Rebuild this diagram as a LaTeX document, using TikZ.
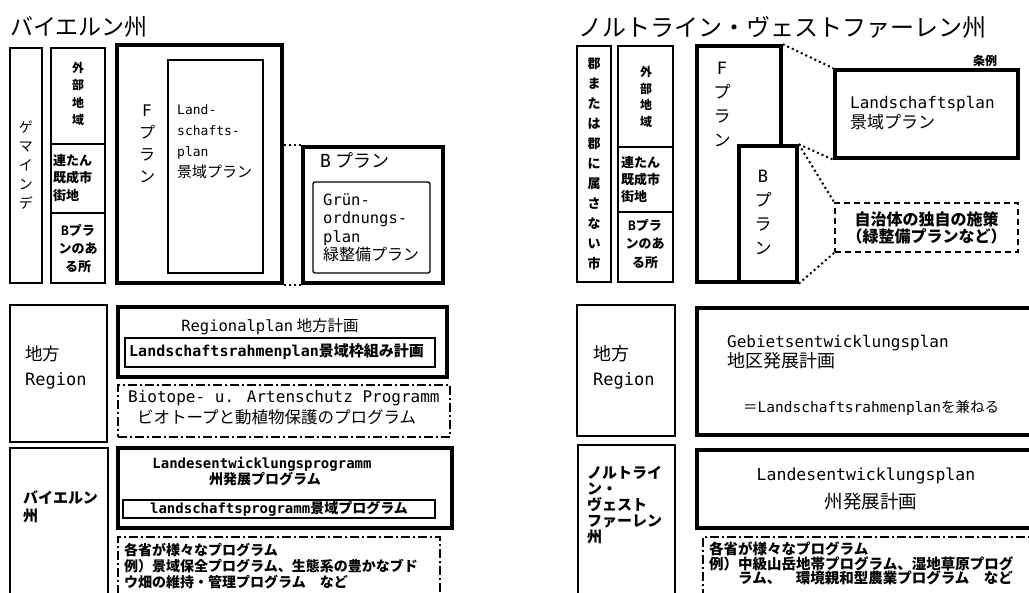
\documentclass[tikz,border=0pt]{standalone}
\usepackage{fontspec}
\setmainfont{Noto Sans CJK JP}
\newfontfamily\lat{DejaVu Sans Mono}
\usetikzlibrary{fit}
\newcommand{\setfs}[2]{\fontsize{#1}{#2}\selectfont}
\newcommand{\latw}[2]{{\lat\fontsize{#1}{#1}\selectfont #2}}
\tikzset{
  planbox/.style={draw, line width=2pt, inner sep=0pt},
  heavybox/.style={draw, line width=3.5pt, inner sep=0pt},
  thinbox/.style={draw, line width=1.3pt, inner sep=0pt},
  dashbox/.style={draw, line width=1.8pt, inner sep=0pt, dash pattern=on 6pt off 4pt},
  progbox/.style={draw, line width=1.5pt, inner sep=0pt, dash pattern=on 9pt off 3pt on 2pt off 3pt},
  linkline/.style={line width=2pt, dash pattern=on 2pt off 3pt},
  txt/.style={inner sep=0pt, align=left},
  vtxt/.style={inner sep=0pt, align=center},
}
\begin{document}
\begin{tikzpicture}[x=1pt, y=-1pt]
  \useasboundingbox (0,0) rectangle (1029,593);
  \fill[white] (0,0) rectangle (1029,593);
  \clip (0,0) rectangle (1029,593);

  % Bayern, Gemeinde
  \node[txt, anchor=west, font=\setfs{23}{23}] (titleBY) at (10,27) {バイエルン州};
  \node[planbox, fit={(10,48) (42,283)}] (gemBY) {};
  \node[planbox, fit={(51,48) (105,144)}] (outBY) {};
  \node[planbox, fit={(51,144) (105,213)}] (urbBY) {};
  \node[planbox, fit={(51,213) (105,283)}] (bareaBY) {};
  \node[heavybox, fit={(117,45) (282,283)}] (fplanBY) {};
  \node[planbox, fit={(168,60) (263,273)}] (lplanBY) {};
  \node[heavybox, fit={(303,147) (443,283)}] (bplanBY) {};
  \node[thinbox, rounded corners=2pt, fit={(313,182) (430,273)}] (gplanBY) {};

  \node[vtxt, font=\setfs{14}{19}] (gemTxt) at (gemBY.center) {ゲ\\マ\\イ\\ン\\デ};
  \node[vtxt, font=\bfseries\setfs{12}{17.5}] (outTxtBY) at (78,94) {外\\部\\地\\域};
  \node[txt, anchor=west, font=\bfseries\setfs{13}{17.5}] (urbTxtBY) at (53,178) {連たん\\既成市\\街地};
  \node[vtxt, font=\bfseries\setfs{13}{18}] (bareaTxtBY) at (78,249) {{\lat B}プラ\\ンのあ\\る所};
  \node[vtxt, font=\setfs{16}{22}] (fTxtBY) at (147,144) {{\lat F}\\プ\\ラ\\ン};
  \node[txt, anchor=west, font=\setfs{15}{21}] (lTxtBY) at (177,142) {\latw{13}{Land-}\\\latw{13}{schafts-}\\\latw{13}{plan}\\景域プラン};
  \node[txt, anchor=west, font=\setfs{18}{18}] (bTitleBY) at (320,160) {{\lat B} プラン};
  \node[txt, anchor=west, font=\setfs{16}{18.5}] (gTxtBY) at (323,228) {\latw{15.5}{Grün-}\\\latw{15.5}{ordnungs-}\\\latw{15.5}{plan}\\緑整備プラン};

  \draw[linkline] (fplanBY.east |- bplanBY.north) -- (bplanBY.north west);
  \draw[linkline] (fplanBY.east |- bplanBY.south) -- (bplanBY.south west);

  % Nordrhein-Westfalen, Gemeinde
  \node[txt, anchor=west, font=\setfs{24}{24}] (titleNW) at (578,27) {ノルトライン・ヴェストファーレン州};
  \node[planbox, fit={(577,46) (611,282)}] (kreisNW) {};
  \node[planbox, fit={(618,46) (673,147)}] (outNW) {};
  \node[planbox, fit={(618,147) (673,212)}] (urbNW) {};
  \node[planbox, fit={(618,212) (673,282)}] (bareaNW) {};
  \node[heavybox, fit={(697,46) (781,282)}] (fplanNW) {};
  \node[heavybox, fill=white, fit={(739,146) (797,282)}] (bplanNW) {};
  \node[heavybox, fit={(835,70) (1018,158)}] (lplanNW) {};
  \node[dashbox, fit={(835,203) (1018,252)}] (ownNW) {};

  \node[vtxt, font=\bfseries\setfs{13}{20}] (kreisTxt) at (kreisNW.center) {郡\\ま\\た\\は\\郡\\に\\属\\さ\\な\\い\\市};
  \node[vtxt, font=\bfseries\setfs{12}{16.7}] (outTxtNW) at (646,97) {外\\部\\地\\域};
  \node[txt, anchor=west, font=\bfseries\setfs{13}{17}] (urbTxtNW) at (621,180) {連たん\\既成市\\街地};
  \node[vtxt, font=\bfseries\setfs{13}{18.5}] (bareaTxtNW) at (645,244) {{\lat B}プラ\\ンのあ\\る所};
  \node[vtxt, font=\setfs{17}{24}] (fTxtNW) at (722,104) {{\lat F}\\プ\\ラ\\ン};
  \node[vtxt, font=\setfs{17}{24}] (bTxtNW) at (763,212) {{\lat B}\\プ\\ラ\\ン};
  \node[txt, font=\bfseries\setfs{12}{12}] (ordNW) at (985,61) {条例};
  \node[txt, anchor=west, font=\setfs{17}{20}] (lTxtNW) at (850,113) {\latw{16}{Landschaftsplan}\\景域プラン};
  \node[vtxt, font=\bfseries\setfs{16}{17}] (ownTxt) at (ownNW.center) {自治体の独自の施策\\（緑整備プランなど）};

  \draw[linkline] (fplanNW.north east) -- (lplanNW.north west);
  \draw[linkline] (bplanNW.north east) -- (lplanNW.south west);
  \draw[linkline] (bplanNW.north east) -- (ownNW.north west);
  \draw[linkline] (bplanNW.south east) -- (ownNW.south west);

  % Region
  \node[planbox, fit={(10,305) (107,442)}] (regBY) {};
  \node[txt, anchor=west, font=\setfs{17.5}{25}] (regTxtBY) at (25,367) {地方\\\latw{17}{Region}};
  \node[heavybox, fit={(118,307) (447,377)}] (rplanBY) {};
  \node[planbox, fit={(125,338) (435,367)}] (lrplanBY) {};
  \node[progbox, fit={(118,385) (450,437)}] (bioBY) {};
  \node[txt, font=\setfs{15.5}{15.5}] (rTxtBY) at (270,327) {\latw{15.5}{Regionalplan} 地方計画};
  \node[txt, anchor=west, font=\bfseries\setfs{15}{15}] (lrTxtBY) at (129,352) {\latw{15}{Landschaftsrahmenplan}景域枠組み計画};
  \node[txt, anchor=west] (bioTxtA) at (128,398) {\latw{16}{Biotope- u. Artenschutz Programm}};
  \node[txt, anchor=west, font=\setfs{16.5}{16.5}] (bioTxtB) at (137,417) {ビオトープと動植物保護のプログラム};

  \node[planbox, fit={(577,305) (675,436)}] (regNW) {};
  \node[txt, anchor=west, font=\setfs{18}{25}] (regTxtNW) at (593,367) {地方\\\latw{17}{Region}};
  \node[heavybox, fit={(697,308) (1040,435)}] (gebNW) {};
  \node[txt, anchor=west] (gebTxtA) at (727,343) {\latw{16}{Gebietsentwicklungsplan}};
  \node[txt, anchor=west, font=\setfs{18}{18}] (gebTxtB) at (727,361) {地区発展計画};
  \node[txt, anchor=west, font=\setfs{14.5}{14.5}] (gebTxtC) at (743,408) {＝\latw{14.5}{Landschaftsrahmenplan}を兼ねる};

  % Land
  \node[planbox, fit={(10,448) (108,610)}] (landBY) {};
  \node[txt, anchor=west, font=\bfseries\setfs{15}{18}] (landTxtBY) at (23,507) {バイエルン\\州};
  \node[heavybox, fit={(118,448) (452,528)}] (lepBY) {};
  \node[thinbox, line width=1.6pt, fit={(123,500) (435,518)}] (lprogBY) {};
  \node[txt, font=\bfseries\setfs{14}{14}] (lepTxtA) at (262,464) {\latw{14}{Landesentwicklungsprogramm}};
  \node[txt, font=\bfseries\setfs{14}{14}] (lepTxtB) at (265,479) {州発展プログラム};
  \node[txt, font=\bfseries\setfs{14}{14}] (lprogTxt) at (lprogBY.center) {\latw{14}{landschaftsprogramm}景域プログラム};
  \node[progbox, fit={(118,537) (440,610)}] (minBY) {};
  \node[txt, anchor=north west, font=\bfseries\setfs{14}{16}] (minTxtBY) at (124,543) {各省が様々なプログラム\\例）景域保全プログラム、生態系の豊かなブド\\ウ畑の維持・管理プログラム　など};

  \node[planbox, fit={(578,445) (675,610)}] (landNW) {};
  \node[txt, anchor=west, font=\bfseries\setfs{15}{16}] (landTxtNW) at (587,505) {ノルトライ\\ン・\\ヴェスト\\ファーレン\\州};
  \node[heavybox, fit={(697,450) (1040,528)}] (lepNW) {};
  \node[txt] (lepTxtC) at (866,476) {\latw{16.5}{Landesentwicklungsplan}};
  \node[txt, font=\setfs{18.5}{18.5}] (lepTxtD) at (871,502) {州発展計画};
  \node[progbox, fit={(703,537) (1040,610)}] (minNW) {};
  \node[txt, anchor=north west, font=\bfseries\setfs{14.5}{14.3}] (minTxtNW) at (709,542) {各省が様々なプログラム\\例）中級山岳地帯プログラム、湿地草原プログ\\　　ラム、　環境親和型農業プログラム　など};
\end{tikzpicture}
\end{document}
